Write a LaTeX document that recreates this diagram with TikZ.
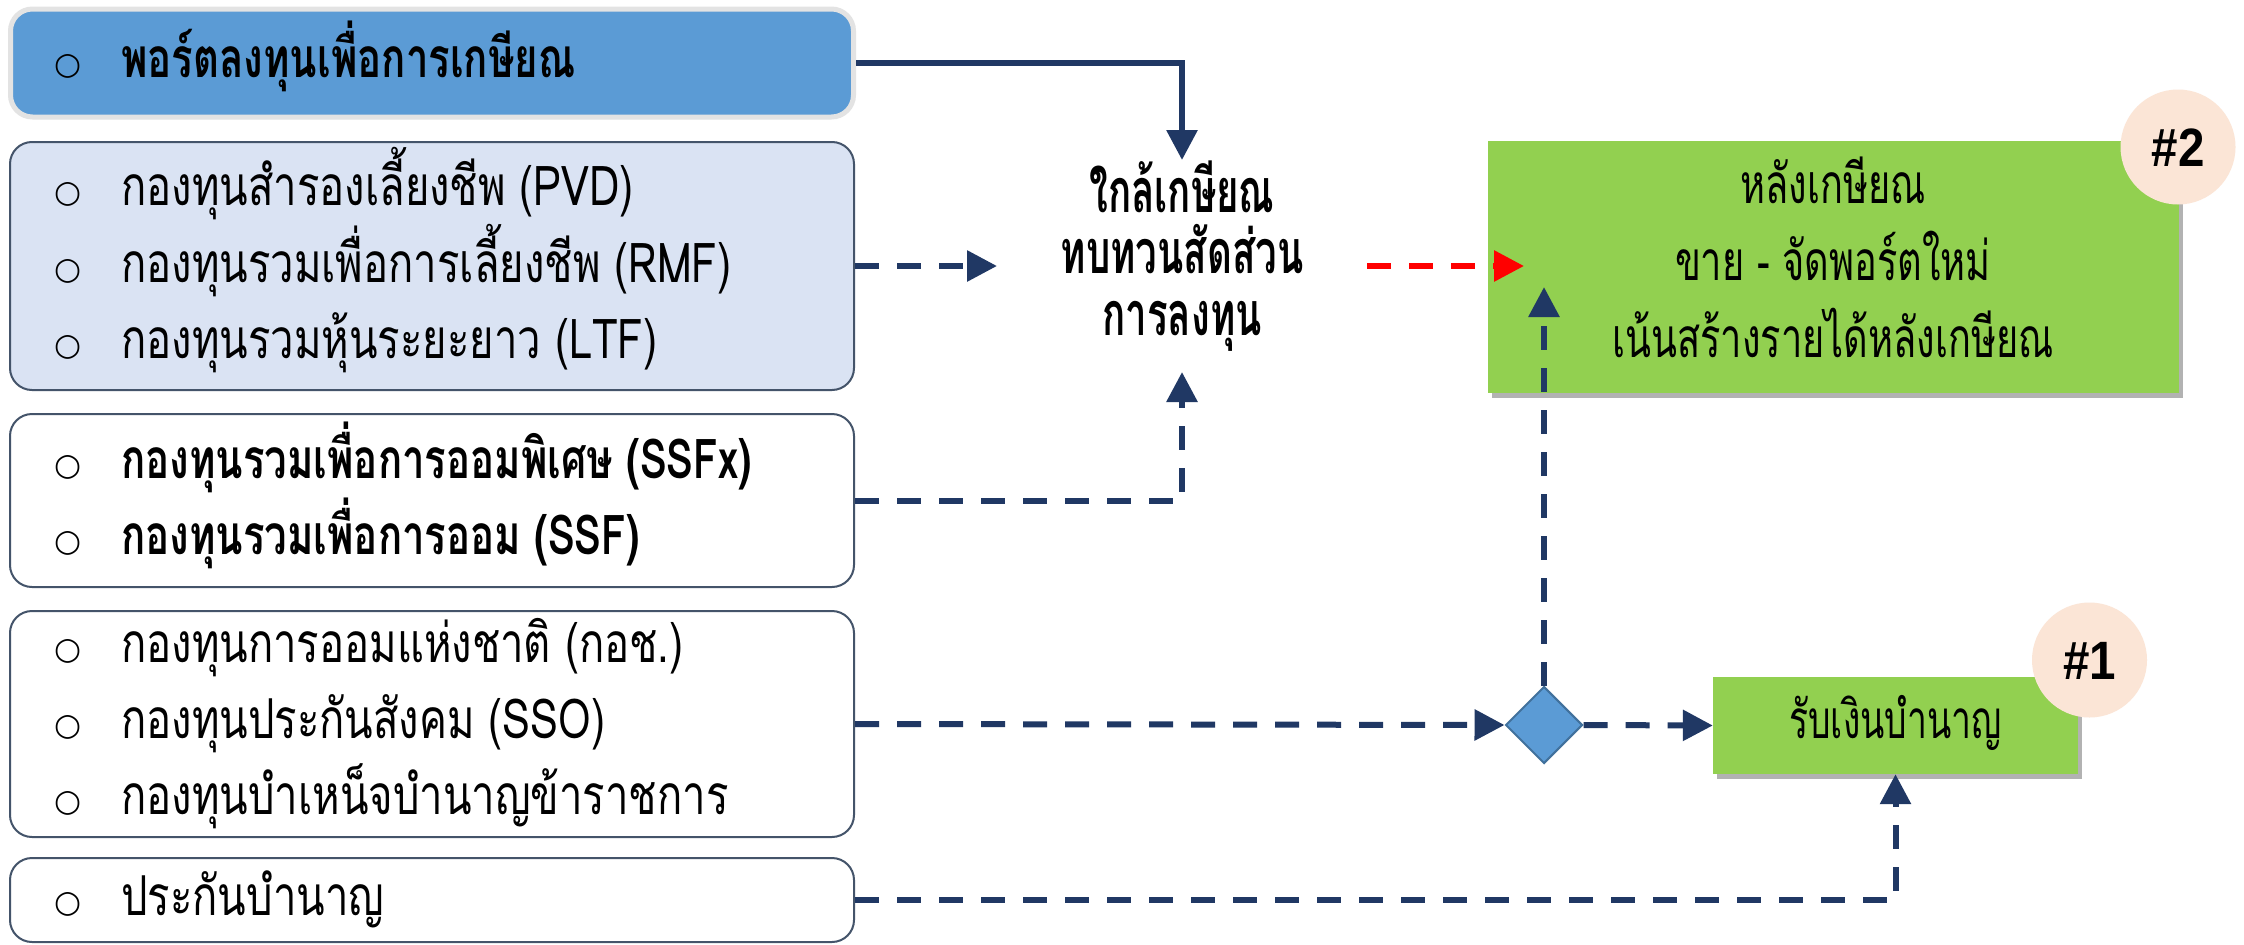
\documentclass[tikz,border=0pt]{standalone}
\usepackage{fontspec}
\usetikzlibrary{arrows.meta,shapes.geometric,shadows}
\newfontfamily\thaiR[Script=Thai,FakeStretch=0.76]{Loma}
\newfontfamily\thaiB[Script=Thai,FakeStretch=0.73]{Loma}
\newfontfamily\thaiM[Script=Thai,FakeStretch=0.63]{Loma}
\newfontfamily\thaiG[Script=Thai,FakeStretch=0.69]{Loma}
\newfontfamily\thaiO[Script=Thai,FakeStretch=0.67]{Loma}
\newfontfamily\bulf{DejaVu Sans}
\newfontfamily\hashf[FakeStretch=0.88]{Liberation Sans}
\newcommand\fsz[1]{\fontsize{#1}{#1}\selectfont}
\newcommand\itm[1]{\makebox[67pt][l]{\raisebox{3pt}{\bulf\fsz{31}○}}#1}
\definecolor{navy}{HTML}{203864}
\definecolor{slate}{HTML}{44546A}
\definecolor{boxblue}{HTML}{5B9BD5}
\definecolor{greyb}{HTML}{E3E3E3}
\definecolor{lblue}{HTML}{DAE3F3}
\definecolor{grn}{HTML}{92D050}
\definecolor{peach}{HTML}{FBE5D6}
\definecolor{dborder}{HTML}{41719C}
\begin{document}
\begin{tikzpicture}[x=1pt,y=-1pt,
  lbox/.style={draw=slate, line width=2pt, rounded corners=22pt, minimum width=844pt, inner sep=0pt},
  ln/.style={anchor=base west, inner sep=0pt, font=\thaiR\fsz{55}},
  lnb/.style={anchor=base west, inner sep=0pt, font=\thaiB\bfseries\fsz{55}},
  mtxt/.style={anchor=base, inner sep=0pt, font=\thaiM\bfseries\fsz{61}},
  gtxt/.style={anchor=base, inner sep=0pt, font=\thaiG\fsz{55}},
  arr/.style={draw=navy, line width=6pt, -{Triangle[length=30pt,width=30pt]}},
  dsh/.style={arr, dash pattern=on 24pt off 18pt},
  gbox/.style={fill=grn, inner sep=0pt, drop shadow={shadow xshift=4pt, shadow yshift=-5pt, fill=black, opacity=0.3}},
  tag/.style={circle, fill=peach, minimum size=115pt, inner sep=0pt, font=\hashf\bfseries\fsz{54}, text height=38pt, text depth=0pt}
]
\fill[white] (0,0) rectangle (2244,945);
\useasboundingbox (0,0) rectangle (2244,945);

% left boxes
\node[lbox, fill=boxblue, draw=greyb, line width=5pt, minimum width=843pt, minimum height=108pt] (b1) at (432,63) {};
\node[lbox, fill=lblue, minimum height=248pt] (b2) at (432,266) {};
\node[lbox, fill=white, minimum height=173pt] (b3) at (432,500.5) {};
\node[lbox, fill=white, minimum height=226pt] (b4) at (432,724) {};
\node[lbox, fill=white, minimum height=84pt] (b5) at (432,900) {};

\node[lnb] (t1) at (54,77) {\itm{พอร์ตลงทุนเพื่อการเกษียณ}};
\node[ln] (t2a) at (54,205) {\itm{กองทุนสำรองเลี้ยงชีพ (PVD)}};
\node[ln] (t2b) at (54,282) {\itm{กองทุนรวมเพื่อการเลี้ยงชีพ (RMF)}};
\node[ln] (t2c) at (54,358) {\itm{กองทุนรวมหุ้นระยะยาว (LTF)}};
\node[lnb] (t3a) at (54,478) {\itm{กองทุนรวมเพื่อการออมพิเศษ (SSFx)}};
\node[lnb] (t3b) at (54,554) {\itm{กองทุนรวมเพื่อการออม (SSF)}};
\node[ln] (t4a) at (54,662) {\itm{กองทุนการออมแห่งชาติ (กอช.)}};
\node[ln] (t4b) at (54,738) {\itm{กองทุนประกันสังคม (SSO)}};
\node[ln] (t4c) at (54,814) {\itm{กองทุนบำเหน็จบำนาญข้าราชการ}};
\node[ln] (t5) at (54,915) {\itm{ประกันบำนาญ}};

% middle text
\node[mtxt] (m1) at (1182,212) {ใกล้เกษียณ};
\node[mtxt] (m2) at (1182,273) {ทบทวนสัดส่วน};
\node[mtxt] (m3) at (1182,335) {การลงทุน};
\coordinate (midN) at (1182,160);
\coordinate (midS) at (1182,372);
\coordinate (midW) at (997,266);
\coordinate (midE) at (1367,266);

% green boxes
\node[gbox, minimum width=691pt, minimum height=252pt] (g2) at (1833,267) {};
\node[gtxt] (g2a) at (1833,203) {หลังเกษียณ};
\node[gtxt] (g2b) at (1833,280) {ขาย - จัดพอร์ตใหม่};
\node[gtxt] (g2c) at (1833,357) {เน้นสร้างรายได้หลังเกษียณ};
\node[tag] (tag2) at (2178,147) {\#2};

\node[gbox, minimum width=365pt, minimum height=97pt, font=\thaiO\fsz{53}, text height=30pt, text depth=5pt] (g1) at (1895.5,725.5) {รับเงินบำนาญ};
\node[tag] (tag1) at (2089.5,660) {\#1};

\node[diamond, fill=boxblue, draw=dborder, line width=2pt, minimum width=77pt, minimum height=77pt, inner sep=0pt] (dia) at (1544,725) {};
\coordinate (t2up) at (1544,287);
\coordinate (redT) at (1524,266);

% connectors
\draw[arr] (b1.east) -| (midN);
\draw[dsh] (b2.east) -- (midW);
\draw[dsh] (b3.east) -| (midS);
\draw[dsh, draw=red, -{Triangle[length=30pt,width=30pt]}] (midE) -- (redT);
\draw[dsh] (b4.east) -- (dia.west);
\draw[dsh] (dia.east) -- (g1.west);
\draw[dsh] (dia.north) -- (t2up);
\draw[dsh] (b5.east) -| (g1.south);
\end{tikzpicture}
\end{document}
